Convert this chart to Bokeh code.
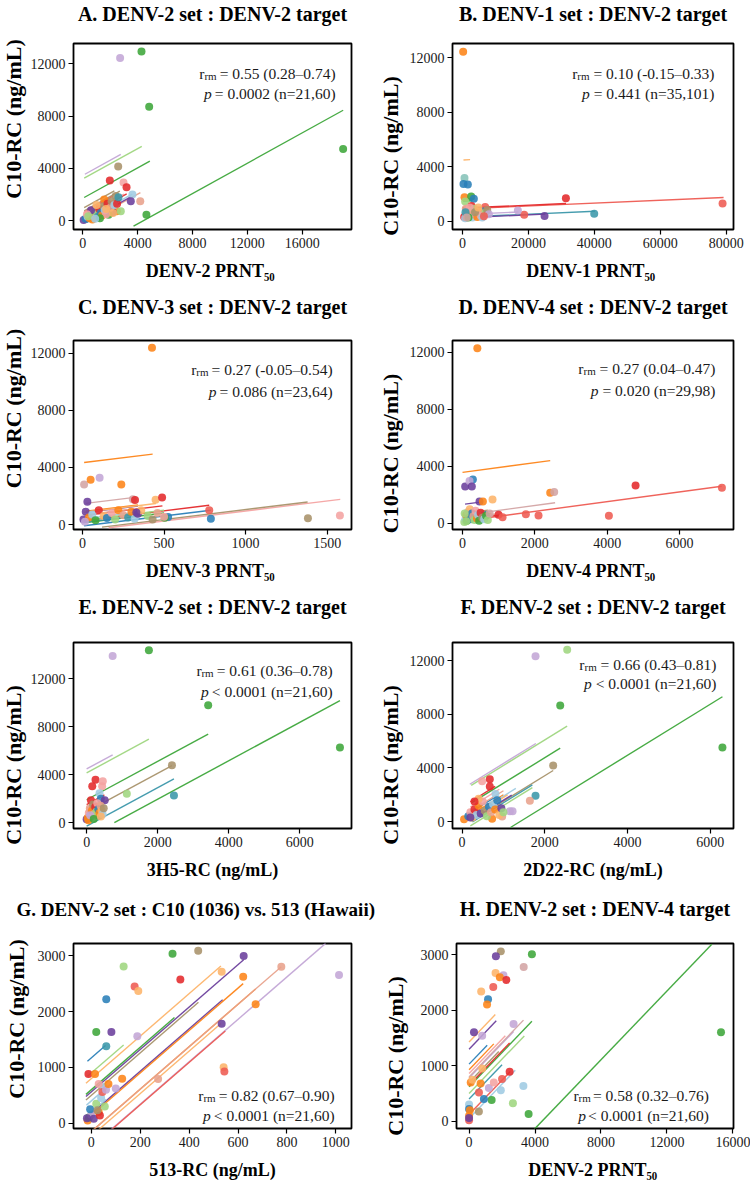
import math
from bokeh.plotting import figure
from bokeh.models import ColumnDataSource, Label, FixedTicker, BasicTickFormatter, Range1d, Title
from bokeh.layouts import column, row
from bokeh.embed import file_html
from bokeh.resources import INLINE

# ---------------- colours (subject palette) ----------------
COL = {"lb": "#9fcbe3", "b": "#2a7fb8", "lg": "#9fd67f", "g": "#3da63a", "pk": "#f4a3a2",
       "r": "#e4292b", "lo": "#fdb46a", "o": "#fd8418", "lp": "#c3a6d6", "p": "#6b3f9c",
       "tan": "#a8926a", "sal": "#e8a28c", "teal": "#3b97aa", "coral": "#ee5b52",
       "rosy": "#d3a4a4", "lteal": "#86c3b8"}

# ---------------- Panel A ----------------
A_title = "A. DENV-2 set : DENV-2 target"
A_xlabel = "DENV-2  PRNT₅₀"
A_xrange = (-680, 19600)
A_yrange = (-670, 13560)
A_xticks = [0, 4000, 8000, 12000, 16000]
A_yticks = [0, 4000, 8000, 12000]
A_stats = ("= 0.55 (0.28–0.74)", "= 0.0002 (n=21,60)")
A_slope = 0.58
A_points = [(2720, 12450, "lp"), (4280, 12940, "g"), (4840, 8720, "g"), (18990, 5490, "g"), (4640, 450, "g"),
            (2580, 4150, "tan"), (1970, 3080, "r"), (2970, 2930, "pk"), (3190, 2560, "r"), (3620, 2010, "lb"),
            (3500, 1500, "p"), (4190, 1500, "sal"), (2480, 720, "o"), (2770, 720, "lg"), (2170, 650, "p"),
            (1880, 450, "g"), (60, 60, "p"), (1560, 1620, "o"),
            (200, 150, "b"), (350, 300, "lb"), (500, 200, "o"), (650, 450, "pk"), (800, 350, "sal"), (900, 700, "tan"),
            (1000, 500, "lg"), (1100, 300, "teal"), (1200, 900, "r"), (1300, 600, "b"), (1400, 400, "o"),
            (1500, 1100, "tan"), (1600, 800, "lb"), (1700, 500, "pk"), (1800, 1300, "r"), (2000, 1000, "sal"),
            (2100, 1500, "tan"), (2300, 1200, "lb"), (2400, 1900, "tan"), (2500, 1300, "r"), (600, 800, "p"),
            (300, 500, "pk"), (700, 100, "o"), (1000, 1200, "lo"), (1250, 200, "g"), (2200, 600, "lo"),
            (2600, 1800, "teal"), (400, 350, "lg"), (900, 150, "lb"), (1700, 900, "lo")]
A_lines = [(3700, 18990, -2560, "g"), (100, 4300, 3200, "lg"), (150, 2770, 3470, "lp"), (100, 4890, 1720, "g"),
           (100, 2300, 950, "tan"), (100, 2700, 700, "tan"), (100, 3200, 200, "r"), (500, 4200, -290, "sal"),
           (300, 3600, -50, "lb"), (80, 3500, -200, "p"), (100, 2500, 100, "o"), (100, 3000, 300, "pk"),
           (200, 2800, 0, "b"), (100, 2000, 500, "lo"), (300, 2400, -300, "teal"), (100, 1900, 350, "lg"),
           (100, 2200, 600, "coral")]

# ---------------- Panel B ----------------
B_title = "B. DENV-1 set : DENV-2 target"
B_xlabel = "DENV-1  PRNT₅₀"
B_xrange = (-3035, 82215)
B_yrange = (-624, 13032)
B_xticks = [0, 20000, 40000, 60000, 80000]
B_yticks = [0, 4000, 8000, 12000]
B_stats = ("= 0.10 (-0.15–0.33)", "= 0.441 (n=35,101)")
B_slope = 0.0105
B_points = [(200, 12430, "o"), (600, 3150, "lteal"), (300, 2720, "b"), (1620, 2680, "b"), (600, 1740, "o"),
            (2630, 1790, "g"), (3440, 1630, "b"), (800, 1430, "lg"), (31370, 1670, "r"), (78900, 1290, "coral"),
            (2730, 1100, "r"), (6880, 1030, "coral"), (18720, 450, "coral"), (24890, 360, "p"), (39960, 530, "teal"),
            (16800, 770, "lp"), (5870, 720, "b"),
            (500, 300, "r"), (800, 200, "lb"), (1200, 500, "pk"), (1500, 800, "lp"), (2000, 350, "o"),
            (2500, 600, "sal"), (3000, 250, "lb"), (3500, 900, "lg"), (4000, 450, "pk"), (4500, 300, "o"),
            (5000, 700, "lo"), (5500, 400, "pk"), (6000, 250, "lb"), (7000, 600, "lg"), (7500, 800, "tan"),
            (8000, 500, "lp"), (1000, 900, "sal"), (2200, 1000, "pk"), (3800, 650, "tan"), (1800, 250, "g"),
            (4800, 1000, "lo"), (6500, 350, "coral"), (900, 650, "teal"), (1300, 250, "rosy")]
B_lines = [(0, 79200, 890, "coral"), (0, 31400, 950, "r"), (0, 40200, 290, "teal"), (0, 17000, 480, "lp"),
           (0, 25100, 240, "p"), (300, 2300, 4480, "lo"), (200, 3600, 1600, "b"), (300, 8000, 700, "lg"),
           (300, 7000, 500, "pk"), (500, 6000, 300, "o"), (200, 5000, 800, "sal"), (1000, 8000, 400, "tan"),
           (200, 4000, 1000, "r"), (300, 5500, 250, "lb"), (200, 3000, 1450, "g")]

# ---------------- Panel C ----------------
C_title = "C. DENV-3 set : DENV-2 target"
C_xlabel = "DENV-3  PRNT₅₀"
C_xrange = (-55, 1649)
C_yrange = (-348, 12885)
C_xticks = [0, 500, 1000, 1500]
C_yticks = [0, 4000, 8000, 12000]
C_stats = ("= 0.27 (-0.05–0.54)", "= 0.086 (n=23,64)")
C_slope = 1.4
C_points = [(426, 12380, "o"), (10, 2810, "rosy"), (50, 3140, "o"), (105, 3280, "lp"), (238, 2810, "o"),
            (309, 1770, "rosy"), (322, 1720, "r"), (448, 1740, "lo"), (488, 1900, "r"), (30, 1600, "p"),
            (777, 1000, "coral"), (787, 400, "b"), (1382, 440, "tan"), (1578, 630, "pk"), (6, 350, "p"),
            (525, 530, "b"), (504, 470, "g"),
            (20, 900, "p"), (40, 500, "o"), (60, 700, "lb"), (80, 300, "g"), (100, 1000, "r"), (130, 600, "lo"),
            (150, 450, "b"), (180, 800, "pk"), (200, 350, "lg"), (220, 1000, "o"), (250, 650, "sal"),
            (280, 500, "teal"), (300, 900, "o"), (320, 400, "lb"), (340, 750, "p"), (360, 1000, "lo"),
            (400, 600, "lg"), (430, 350, "tan"), (460, 800, "sal"), (500, 550, "pk"), (15, 200, "lp"),
            (330, 850, "p")]
C_lines = [(10, 430, 4330, "o"), (160, 1580, -450, "pk"), (120, 1380, -350, "tan"), (10, 787, -100, "b"),
           (10, 777, 260, "r"), (20, 500, 110, "g"), (20, 340, 820, "p"), (20, 320, 1450, "rosy"),
           (20, 340, 900, "o"), (10, 450, 840, "lo"), (20, 490, 620, "r"), (10, 350, 400, "lb"),
           (10, 300, 650, "sal"), (20, 500, 300, "lg"), (10, 250, 150, "teal")]

# ---------------- Panel D ----------------
D_title = "D. DENV-4 set : DENV-2 target"
D_xlabel = "DENV-4  PRNT₅₀"
D_xrange = (-277, 7494)
D_yrange = (-421, 12821)
D_xticks = [0, 2000, 4000, 6000]
D_yticks = [0, 4000, 8000, 12000]
D_stats = ("= 0.27 (0.04–0.47)", "= 0.020 (n=29,98)")
D_slope = 0.34
D_points = [(410, 12280, "o"), (74, 2600, "p"), (286, 3090, "b"), (194, 2970, "lp"), (258, 2600, "p"),
            (2425, 2150, "o"), (2536, 2200, "rosy"), (470, 1540, "p"), (563, 1540, "o"), (830, 1680, "lo"),
            (4786, 2670, "r"), (7174, 2500, "coral"), (4048, 540, "coral"), (2102, 560, "coral"),
            (1752, 650, "coral"), (996, 610, "r"), (1107, 440, "coral"),
            (50, 100, "lg"), (80, 300, "lb"), (100, 600, "o"), (120, 200, "g"), (150, 800, "pk"), (180, 400, "tan"),
            (200, 1000, "lo"), (230, 300, "teal"), (260, 700, "b"), (300, 500, "sal"), (330, 250, "lg"),
            (360, 900, "pk"), (400, 350, "o"), (430, 600, "lb"), (460, 200, "g"), (500, 750, "r"),
            (550, 400, "tan"), (600, 300, "lb"), (650, 550, "g"), (700, 250, "lg"), (750, 700, "rosy"),
            (100, 150, "lg"), (60, 700, "lg")]
D_lines = [(0, 2425, 3580, "o"), (60, 7170, 170, "coral"), (0, 2560, 580, "rosy"), (70, 540, 1330, "p"),
           (50, 700, 600, "b"), (50, 600, 300, "g"), (50, 800, 450, "o"), (50, 500, 800, "lp"),
           (50, 650, 200, "lg"), (50, 700, 700, "tan"), (50, 900, 350, "sal"), (50, 1100, 250, "r")]

# ---------------- Panel E ----------------
E_title = "E. DENV-2 set : DENV-2 target"
E_xlabel = "3H5-RC (ng/mL)"
E_xrange = (-370, 7455)
E_yrange = (-497, 15006)
E_xticks = [0, 2000, 4000, 6000]
E_yticks = [0, 4000, 8000, 12000]
E_stats = ("= 0.61 (0.36–0.78)", "< 0.0001 (n=21,60)")
E_slope = 1.6
E_points = [(732, 13880, "lp"), (1752, 14370, "g"), (3421, 9770, "g"), (7130, 6260, "g"), (2401, 4770, "tan"),
            (2457, 2260, "teal"), (1131, 2400, "lg"), (250, 3560, "r"), (158, 3030, "r"), (454, 3450, "pk"),
            (436, 3030, "pk"), (362, 2450, "lb"), (399, 1990, "b"), (510, 1850, "p"), (121, 1850, "r"),
            (324, 610, "teal"), (0, 280, "p"),
            (30, 400, "o"), (60, 800, "pk"), (90, 1200, "sal"), (120, 500, "lb"), (150, 1000, "o"),
            (180, 1500, "tan"), (210, 700, "lo"), (240, 1300, "r"), (270, 900, "lg"), (300, 1600, "pk"),
            (330, 1100, "b"), (360, 800, "o"), (390, 1400, "sal"), (420, 1000, "lo"), (450, 700, "lb"),
            (480, 1200, "tan"), (50, 200, "o"), (100, 600, "lp"), (200, 300, "g"), (400, 500, "lo")]
E_lines = [(780, 7130, -1250, "g"), (0, 3421, 1900, "g"), (0, 1752, 4140, "lg"), (0, 732, 4470, "lp"),
           (0, 2401, 900, "tan"), (0, 2457, -300, "teal"), (0, 500, 1500, "r"), (0, 450, 1200, "pk"),
           (0, 400, 800, "o"), (0, 500, 600, "lb"), (0, 480, 400, "p"), (0, 400, 1000, "sal"),
           (0, 350, 300, "lo"), (0, 500, 200, "b")]

# ---------------- Panel F ----------------
F_title = "F. DENV-2 set : DENV-2 target"
F_xlabel = "2D22-RC (ng/mL)"
F_xrange = (-232, 6564)
F_yrange = (-513, 13341)
F_xticks = [0, 2000, 4000, 6000]
F_yticks = [0, 4000, 8000, 12000]
F_stats = ("= 0.66 (0.43–0.81)", "< 0.0001 (n=21,60)")
F_slope = 1.9
F_points = [(1776, 12310, "lp"), (2542, 12800, "lg"), (2373, 8650, "g"), (6296, 5520, "g"), (2203, 4180, "tan"),
            (1776, 1930, "teal"), (807, 2050, "lb"), (1639, 1560, "sal"), (670, 3150, "r"), (670, 2610, "r"),
            (484, 3000, "pk"), (1155, 780, "lp"), (1220, 780, "lp"), (969, 390, "sal"), (726, 220, "o"),
            (48, 170, "o"),
            (150, 400, "b"), (200, 700, "pk"), (250, 300, "lo"), (300, 900, "r"), (350, 500, "lb"),
            (400, 1200, "o"), (450, 600, "p"), (500, 1500, "pk"), (550, 800, "tan"), (600, 400, "lg"),
            (650, 1100, "b"), (700, 700, "sal"), (750, 1300, "lb"), (800, 900, "o"), (850, 1600, "b"),
            (900, 500, "lo"), (950, 1000, "p"), (1000, 700, "lg"), (400, 1700, "lo"), (300, 1500, "r"),
            (200, 300, "p")]
F_lines = [(1170, 6296, -2660, "g"), (220, 2540, 2280, "lg"), (186, 1784, 2430, "lp"), (226, 2373, 960, "g"),
           (226, 2203, -380, "tan"), (200, 800, 1100, "r"), (200, 900, 700, "pk"), (200, 850, 300, "b"),
           (200, 1000, 100, "o"), (250, 1700, -500, "teal"), (200, 1700, -700, "lg"), (200, 1200, -300, "p"),
           (250, 1300, 0, "lb"), (200, 1000, 400, "sal"), (300, 1100, -100, "lo")]

# ---------------- Panel G ----------------
G_title = "G. DENV-2 set : C10 (1036) vs. 513 (Hawaii)"
G_xlabel = "513-RC (ng/mL)"
G_xrange = (-73, 1064)
G_yrange = (-95, 3218)
G_xticks = [0, 200, 400, 600, 800, 1000]
G_yticks = [0, 1000, 2000, 3000]
G_stats = ("= 0.82 (0.67–0.90)", "< 0.0001 (n=21,60)")
G_slope = 3.8
G_points = [(332, 3035, "g"), (437, 3087, "tan"), (623, 2994, "p"), (132, 2806, "lg"), (777, 2800, "sal"),
            (1013, 2654, "lp"), (364, 2572, "r"), (621, 2624, "o"), (177, 2449, "coral"), (192, 2367, "lo"),
            (61, 2220, "b"), (672, 2132, "o"), (20, 1634, "g"), (82, 1634, "p"), (188, 1558, "lp"),
            (533, 1781, "p"), (61, 1377, "teal"), (541, 1002, "lo"), (544, 926, "coral"), (126, 797, "o"),
            (273, 791, "sal"), (533, 2712, "lo"),
            (-15, 50, "o"), (-10, 100, "g"), (0, 150, "lp"), (10, 80, "p"), (-5, 250, "b"), (20, 350, "lg"),
            (30, 200, "o"), (40, 450, "lb"), (50, 650, "lb"), (35, 140, "r"), (45, 560, "coral"),
            (60, 600, "lp"), (70, 700, "o"), (-12, 880, "r"), (15, 880, "o"), (30, 700, "pk"),
            (100, 620, "lp"), (55, 300, "lg"), (25, 230, "tan"), (-18, 90, "p")]
G_lines = [(-16, 58, 1170, "b"), (-16, 132, 900, "lg"), (-22, 530, 800, "lo"), (-22, 623, 560, "p"),
           (-22, 340, 600, "g"), (-22, 438, 500, "tan"), (-22, 537, 170, "p"), (-22, 621, 140, "o"),
           (-5, 672, -150, "o"), (-12, 777, -150, "sal"), (17, 530, -230, "lo"), (51, 958, -420, "lp"),
           (58, 548, -430, "coral"), (-20, 60, 200, "lb"), (-20, 80, 400, "lb")]

# ---------------- Panel H ----------------
H_title = "H. DENV-2 set : DENV-4 target"
H_xlabel = "DENV-2  PRNT₅₀"
H_xrange = (-762, 16036)
H_yrange = (-131, 3205)
H_xticks = [0, 4000, 8000, 12000, 16000]
H_yticks = [0, 1000, 2000, 3000]
H_stats = ("= 0.58 (0.32–0.76)", "< 0.0001 (n=21,60)")
H_slope = 0.31
H_points = [(1925, 3063, "tan"), (1627, 2975, "p"), (3810, 3010, "g"), (3313, 2781, "rosy"), (1607, 2675, "lo"),
            (2083, 2634, "lp"), (1865, 2598, "o"), (2262, 2546, "r"), (1468, 2422, "coral"), (734, 2340, "lo"),
            (1151, 2199, "b"), (1091, 2105, "o"), (298, 1605, "p"), (794, 1540, "lp"), (2698, 1752, "lp"),
            (15278, 1605, "g"), (3611, 129, "g"), (2659, 323, "lg"), (3294, 635, "lb"), (2460, 894, "r"),
            (1925, 558, "lb"), (1369, 382, "g"), (595, 176, "tan"),
            (0, 300, "lb"), (0, 220, "b"), (0, 100, "o"), (0, 20, "coral"), (0, 60, "p"), (50, 200, "o"),
            (100, 700, "o"), (200, 750, "lo"), (600, 520, "coral"), (700, 680, "o"), (800, 950, "lo"),
            (900, 400, "b"), (1200, 600, "lp"), (1500, 700, "pk"), (2000, 760, "coral")]
H_lines = [(3968, 14722, -1372, "g"), (0, 1590, 1430, "lo"), (0, 1650, 1300, "p"), (0, 1100, 1030, "b"),
           (0, 1500, 930, "o"), (0, 2700, 780, "lp"), (0, 3300, 800, "rosy"), (0, 3810, 620, "g"),
           (0, 3350, 500, "lg"), (0, 2460, 650, "r"), (0, 2000, 400, "teal"), (0, 2500, 120, "coral"),
           (0, 2800, 50, "lb"), (0, 1800, 700, "tan"), (0, 2200, 860, "pk")]

# ---------------- layout constants ----------------
COLW = [375, 375]
BL = [71, 77]
BR = [24, 17]
ROWH = [293, 300, 302, 287]
FT = [42, 46, 48, 47]                # frame top inside each row
FHS = [187, 190, 187, 189]           # frame heights
SPACER = [7.5, 11.5, 13.5, 12.5]     # standoff of the spacer title between frame and title
FONT = "Liberation Serif"

REG = {' ': 250, '=': 564, '<': 564, '.': 250, ',': 250, '(': 333, ')': 333, '-': 333, '–': 500,
       'n': 500, 'r': 333, 'm': 778, 'p': 500}
BOLD = {' ': 250, '(': 333, ')': 333, ',': 250, '-': 333, '.': 250, '/': 278, ':': 333,
        'A': 722, 'B': 667, 'C': 722, 'D': 722, 'E': 667, 'F': 611, 'G': 778, 'H': 778, 'L': 667,
        'N': 722, 'P': 611, 'R': 722, 'T': 667, 'V': 722, 'a': 500, 'e': 444, 'g': 500, 'i': 278,
        'm': 833, 'n': 556, 'r': 444, 's': 389, 't': 333, 'w': 722, 'v': 500}


def tw(s, table, size):
    return sum(table.get(ch, 500) for ch in s) * size / 1000.0


PANELS = [
    dict(title=A_title, xlabel=A_xlabel, xr=A_xrange, yr=A_yrange, xt=A_xticks, yt=A_yticks, stats=A_stats,
         slope=A_slope, pts=A_points, lines=A_lines, yoff=-17, ys=0, dr=16, d1=30, d2=50),
    dict(title=B_title, xlabel=B_xlabel, xr=B_xrange, yr=B_yrange, xt=B_xticks, yt=B_yticks, stats=B_stats,
         slope=B_slope, pts=B_points, lines=B_lines, yoff=20, ys=4, dr=19, d1=30, d2=50),
    dict(title=C_title, xlabel=C_xlabel, xr=C_xrange, yr=C_yrange, xt=C_xticks, yt=C_yticks, stats=C_stats,
         slope=C_slope, pts=C_points, lines=C_lines, yoff=-26, ys=0, dr=19, d1=29, d2=51),
    dict(title=D_title, xlabel=D_xlabel, xr=D_xrange, yr=D_yrange, xt=D_xticks, yt=D_yticks, stats=D_stats,
         slope=D_slope, pts=D_points, lines=D_lines, yoff=19, ys=4, dr=18, d1=28, d2=50),
    dict(title=E_title, xlabel=E_xlabel, xr=E_xrange, yr=E_yrange, xt=E_xticks, yt=E_yticks, stats=E_stats,
         slope=E_slope, pts=E_points, lines=E_lines, yoff=30, ys=0, dr=19, d1=28, d2=49),
    dict(title=F_title, xlabel=F_xlabel, xr=F_xrange, yr=F_yrange, xt=F_xticks, yt=F_yticks, stats=F_stats,
         slope=F_slope, pts=F_points, lines=F_lines, yoff=30, ys=4, dr=17, d1=22, d2=41),
    dict(title=G_title, xlabel=G_xlabel, xr=G_xrange, yr=G_yrange, xt=G_xticks, yt=G_yticks, stats=G_stats,
         slope=G_slope, pts=G_points, lines=G_lines, yoff=-15, ys=7, dr=17, d1=-34, d2=-13),
    dict(title=H_title, xlabel=H_xlabel, xr=H_xrange, yr=H_yrange, xt=H_xticks, yt=H_yticks, stats=H_stats,
         slope=H_slope, pts=H_points, lines=H_lines, yoff=22, ys=15, dr=25, d1=-34, d2=-13),
]


def make_panel(i, s):
    r, c = divmod(i, 2)
    W, Hh = COLW[c], ROWH[r]
    bl, br = BL[c], BR[c]
    fw = W - bl - br
    fh = FHS[r]
    ft = FT[r]
    fb = Hh - ft - fh
    xr, yr = s["xr"], s["yr"]
    p = figure(width=W, height=Hh, x_range=Range1d(*xr), y_range=Range1d(*yr),
               output_backend="svg", toolbar_location=None, title=None,
               min_border_left=bl, min_border_right=br, min_border_top=ft,
               min_border_bottom=fb)
    p.xgrid.visible = False
    p.ygrid.visible = False
    p.outline_line_color = "black"
    p.outline_line_width = 1.8
    p.outline_line_alpha = 1
    p.background_fill_color = "white"
    p.border_fill_color = "white"
    p.xaxis.ticker = FixedTicker(ticks=s["xt"])
    p.yaxis.ticker = FixedTicker(ticks=s["yt"])
    for ax in (p.xaxis[0], p.yaxis[0]):
        ax.formatter = BasicTickFormatter(use_scientific=False)
        ax.axis_line_color = None
        ax.major_tick_in = 0
        ax.major_tick_out = 5
        ax.major_tick_line_color = "black"
        ax.major_tick_line_width = 1.2
        ax.minor_tick_line_color = None
        ax.major_label_text_font = FONT
        ax.major_label_text_font_size = "14px"
        ax.major_label_text_color = "#1a1a1a"
        ax.major_label_standoff = 3

    # x axis label
    xa = p.xaxis[0]
    xa.axis_label = s["xlabel"]
    xa.axis_label_text_font = FONT
    xa.axis_label_text_font_size = "18px"
    xa.axis_label_text_font_style = "bold"
    xa.axis_label_text_color = "black"
    xa.axis_label_standoff = 10

    # title: spacer (nearest the frame) then the real title
    p.add_layout(Title(text=" ", text_font_size="8px", standoff=SPACER[r]), "above")
    if i == 6:
        p.add_layout(Title(text=s["title"], align="left", offset=14 - bl, text_font=FONT,
                           text_font_size="19px", text_font_style="bold", text_color="black",
                           standoff=0, vertical_align="bottom"), "above")
    else:
        p.add_layout(Title(text=s["title"], align="center", text_font=FONT,
                           text_font_size="20px", text_font_style="bold", text_color="black",
                           standoff=0, vertical_align="bottom"), "above")

    # y label as left title, offset so it sits where the reference puts it
    ylab = "C10-RC (ng/mL)"
    L = tw(ylab, BOLD, 22)
    p.add_layout(Title(text=ylab, align="left", offset=fh / 2 - s["yoff"] - L / 2, text_font=FONT,
                       text_font_size="22px", text_font_style="bold", text_color="black",
                       standoff=s["ys"], vertical_align="top"), "left")

    # regression lines (common slope, subject-specific intercept)
    slope = s["slope"]
    lx0 = [l[0] for l in s["lines"]]
    lx1 = [l[1] for l in s["lines"]]
    ly0 = [l[2] + slope * l[0] for l in s["lines"]]
    ly1 = [l[2] + slope * l[1] for l in s["lines"]]
    lc = [COL[l[3]] for l in s["lines"]]
    p.segment(x0="x0", y0="y0", x1="x1", y1="y1", line_color="c", line_width=1.4, line_alpha=0.95,
              source=ColumnDataSource(dict(x0=lx0, y0=ly0, x1=lx1, y1=ly1, c=lc)))
    # points
    px = [q[0] for q in s["pts"]]
    py = [q[1] for q in s["pts"]]
    pc = [COL[q[2]] for q in s["pts"]]
    p.scatter(x="x", y="y", size=8, fill_color="c", line_color=None, fill_alpha=0.88,
              source=ColumnDataSource(dict(x=px, y=py, c=pc)))

    def X(dx):
        return xr[0] + dx / fw * (xr[1] - xr[0])

    def Y(dy):
        if dy < 0:
            dy = fh + dy
        return yr[1] - dy / fh * (yr[1] - yr[0])

    def lab(dx, dy, text, size, style="normal", align="left", sub=0):
        yy = Y(dy) - sub / fh * (yr[1] - yr[0])
        p.add_layout(Label(x=X(dx), y=yy, text=text, text_font=FONT, text_font_size=size,
                           text_font_style=style, text_align=align, text_baseline="alphabetic",
                           text_color="#1a1a1a"))

    # statistics
    fs, sfs = 15.5, 11
    xr_px = fw - s["dr"]
    m1, m2 = s["stats"]
    w1 = tw(m1, REG, fs)
    lab(xr_px, s["d1"], m1, "15.5px", align="right")
    xsub = xr_px - w1 - 0.25 * fs
    lab(xsub, s["d1"], "rm", "11px", align="right", sub=3)
    lab(xsub - tw("rm", REG, sfs), s["d1"], "r", "15.5px", align="right")
    w2 = tw(m2, REG, fs)
    lab(xr_px - w2 - 0.25 * fs, s["d2"], "p", "15.5px", "italic", align="right")
    lab(xr_px, s["d2"], m2, "15.5px", align="right")
    return p


figs = [make_panel(i, s) for i, s in enumerate(PANELS)]
layout = column(row(figs[0], figs[1]), row(figs[2], figs[3]),
                row(figs[4], figs[5]), row(figs[6], figs[7]))

open("out.html", "w").write(file_html(layout, INLINE))
